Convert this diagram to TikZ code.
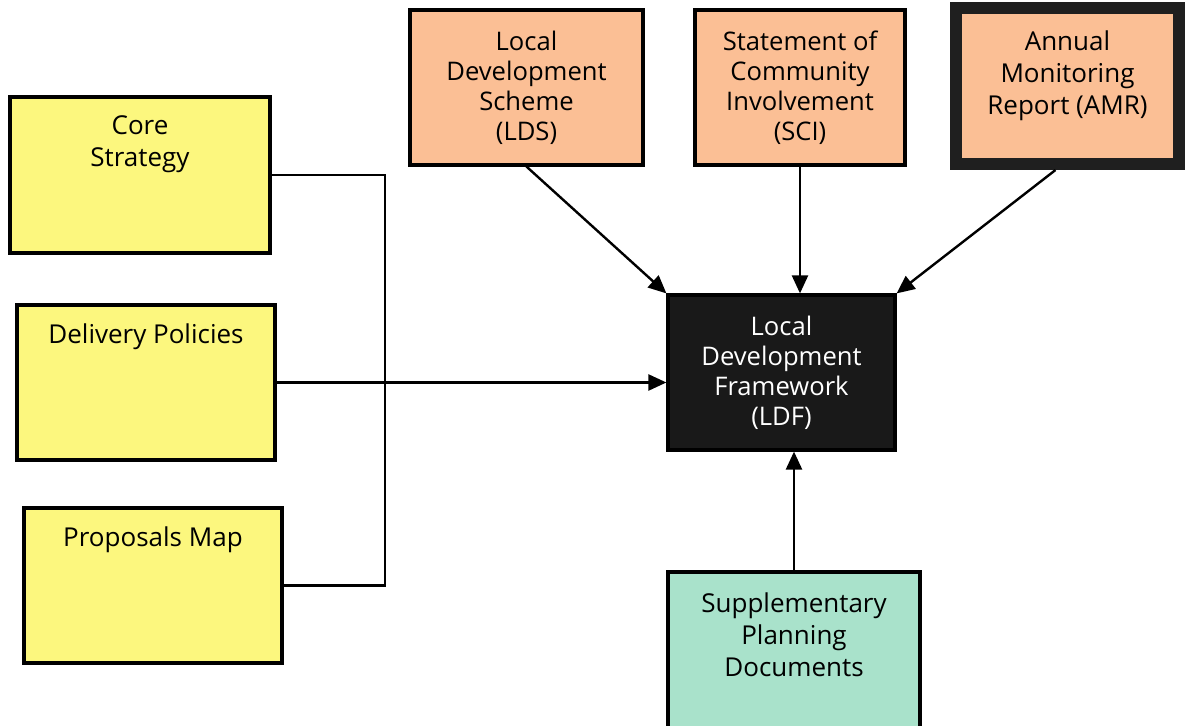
\documentclass[tikz,border=0pt]{standalone}
\usepackage{fontspec}
\setmainfont{Open Sans}
\usetikzlibrary{arrows.meta}
\definecolor{peach}{HTML}{FBBF95}
\definecolor{lemon}{HTML}{FCF77E}
\definecolor{mint}{HTML}{A9E2CB}
\tikzset{
  box/.style={draw=black, line width=1.6pt, rectangle, inner sep=0pt, align=center,
    font=\fontsize{12.8}{15}\selectfont},
  ybox/.style={box, fill=lemon, minimum width=129pt, minimum height=77.5pt},
  obox/.style={box, fill=peach, minimum height=77.5pt},
  lbl/.style={inner sep=0pt, align=center, font=\fontsize{13}{16}\selectfont, anchor=north},
  link/.style={line width=1.2pt},
  arr/.style={line width=1.2pt, -{Triangle[length=9pt,width=8pt]}}
}
\begin{document}
\begin{tikzpicture}[x=0.5pt,y=-0.5pt]
\useasboundingbox (0,0) rectangle (1185,726);
\clip (0,0) rectangle (1185,726);
% left boxes
\node[ybox, minimum width=130pt, minimum height=78pt] (cs) at (140,175) {};
\node[lbl] (cst) at ([yshift=-10pt]cs.north) {Core\\Strategy};
\node[ybox] (dp) at (146,382.5) {};
\node[lbl] (dpt) at ([yshift=-10pt]dp.north) {Delivery Policies};
\node[ybox] (pm) at (153,585.5) {};
\node[lbl] (pmt) at ([yshift=-10pt]pm.north) {Proposals Map};
% top boxes
\node[obox, minimum width=116.5pt] (lds) at (526.5,87.5) {Local\\Development\\Scheme\\(LDS)};
\node[obox, minimum width=105pt] (sci) at (800,87.5) {Statement of\\Community\\Involvement\\(SCI)};
\node[box, fill=peach, line width=6pt, draw=black!88, minimum width=111.5pt, minimum height=78pt] (amr) at (1067.5,86) {};
\node[lbl, anchor=center] (amrt) at (1067.5,76) {Annual\\Monitoring\\Report (AMR)};
% centre
\node[box, fill=black!90, text=white, minimum width=113.5pt, minimum height=77.5pt] (ldf) at (781.5,372.5) {Local\\Development\\Framework\\(LDF)};
% bottom
\node[box, fill=mint, minimum width=126pt, minimum height=94pt] (spd) at (794,666) {};
\node[lbl] (spdt) at ([yshift=-11pt]spd.north) {Supplementary\\Planning\\Documents};
% connectors
\coordinate (bus) at (385,0);
\draw[link] (cs.east) -- (cs.east -| bus) -- (pm.east -| bus) -- (pm.east);
\draw[arr] (dp.east) -- (dp.east -| ldf.west);
\draw[arr] (lds.south) -- (ldf.north west);
\draw[arr] (sci.south) -- (sci.south |- ldf.north);
\draw[arr] ([xshift=-6pt]amr.south) -- (ldf.north east);
\draw[arr] (spd.north) -- (spd.north |- ldf.south);
\end{tikzpicture}
\end{document}
